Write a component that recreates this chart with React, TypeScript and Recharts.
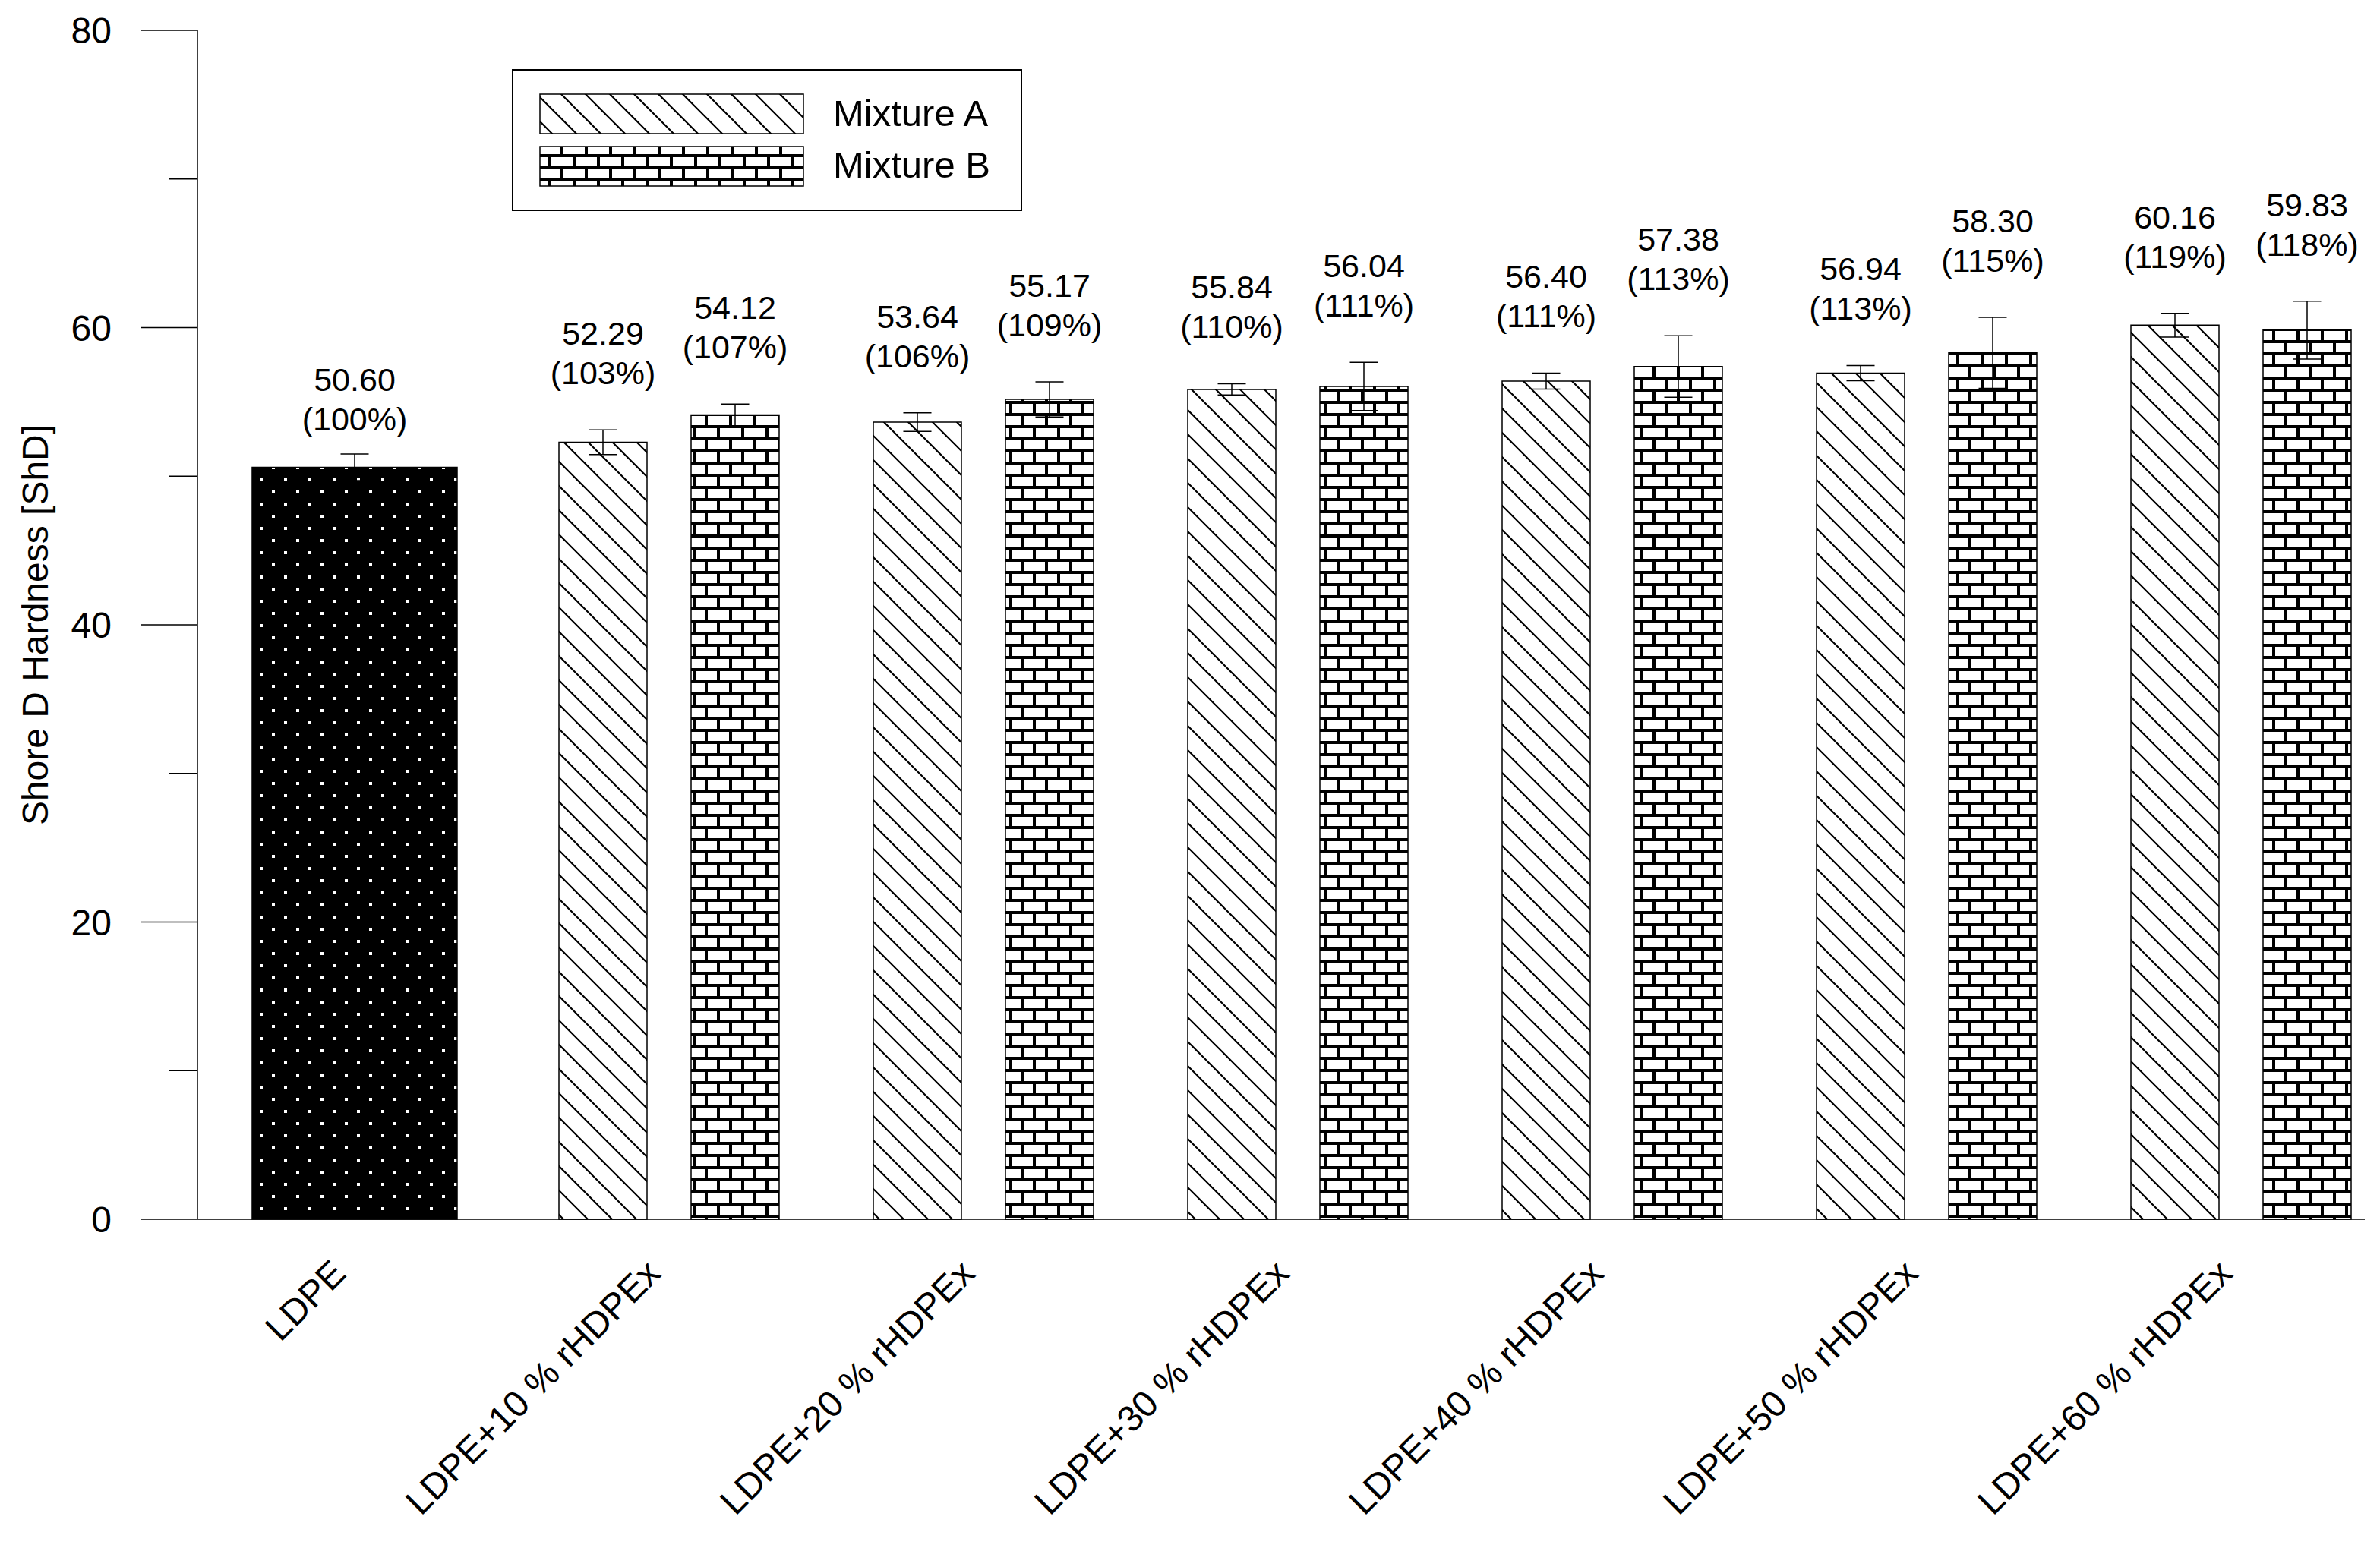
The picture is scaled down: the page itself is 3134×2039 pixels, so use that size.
import React from 'react';
import { BarChart, Bar, XAxis, YAxis, ErrorBar, LabelList, Legend } from 'recharts';

// ---- data ----
const categories = [
  'LDPE',
  'LDPE+10 % rHDPEx',
  'LDPE+20 % rHDPEx',
  'LDPE+30 % rHDPEx',
  'LDPE+40 % rHDPEx',
  'LDPE+50 % rHDPEx',
  'LDPE+60 % rHDPEx',
];
const ldpeValues = [50.6, null, null, null, null, null, null];
const ldpeErrors = [0.89, null, null, null, null, null, null];
const ldpePercents = [100, null, null, null, null, null, null];

const mixtureAValues = [null, 52.29, 53.64, 55.84, 56.4, 56.94, 60.16];
const mixtureAErrors = [null, 0.83, 0.63, 0.38, 0.54, 0.51, 0.8];
const mixtureAPercents = [null, 103, 106, 110, 111, 113, 119];

const mixtureBValues = [null, 54.12, 55.17, 56.04, 57.38, 58.3, 59.83];
const mixtureBErrors = [null, 0.73, 1.18, 1.62, 2.07, 2.39, 1.95];
const mixtureBPercents = [null, 107, 109, 111, 113, 115, 118];

const yTicks = [0, 10, 20, 30, 40, 50, 60, 70, 80];
const yMajorTicks = [0, 20, 40, 60, 80];
const yAxisTitle = 'Shore D Hardness [ShD]';
const legendNames = ['Mixture A', 'Mixture B'];

const data = categories.map((name, i) => ({
  name,
  ldpe: ldpeValues[i],
  ldpeErr: ldpeErrors[i],
  a: mixtureAValues[i],
  aErr: mixtureAErrors[i],
  b: mixtureBValues[i],
  bErr: mixtureBErrors[i],
}));

const FONT = '"Liberation Sans", Arial, Helvetica, sans-serif';

const XTick = (props: any) => {
  const { x, y, payload } = props;
  const ax = Number(x) - 9;
  const ay = Number(y) + 74;
  return (
    <text
      x={ax}
      y={ay}
      transform={`rotate(-45 ${ax} ${ay})`}
      textAnchor="end"
      fontSize={48}
      fontFamily={FONT}
      fill="#000"
    >
      {payload.value}
    </text>
  );
};

const YTick = (props: any) => {
  const { x, y, payload } = props;
  const v = payload.value;
  const major = yMajorTicks.includes(v);
  const len = major ? 74 : 38;
  const X = Number(x);
  const Y = Number(y);
  return (
    <g>
      <line x1={X - len} y1={Y} x2={X} y2={Y} stroke="#000" strokeWidth={1.5} />
      {major && (
        <text x={X - 113} y={Y + 17} textAnchor="end" fontSize={48} fontFamily={FONT} fill="#000">
          {v}
        </text>
      )}
    </g>
  );
};

const YTitle = (props: any) => {
  const vb = props.viewBox || { x: 0, y: 40, width: 260, height: 1566 };
  const cy = Number(vb.y) + Number(vb.height) / 2;
  const bx = 63;
  return (
    <text
      x={bx}
      y={cy}
      transform={`rotate(-90 ${bx} ${cy})`}
      textAnchor="middle"
      fontSize={48}
      fontFamily={FONT}
      fill="#000"
    >
      {yAxisTitle}
    </text>
  );
};

const makeLabel =
  (vals: (number | null)[], errs: (number | null)[], pcts: (number | null)[], gap: number) =>
  (props: any) => {
    const v = Number(props.value);
    if (props.value == null || isNaN(v)) return null;
    const index = vals.indexOf(v);
    if (index < 0) return null;
    const vb = props.viewBox && props.viewBox.width != null ? props.viewBox : props;
    const x = Number(vb.x);
    const y = Number(vb.y);
    const w = Number(vb.width);
    const h = Number(vb.height);
    const k = h / v;
    const errTop = y - (errs[index] || 0) * k;
    const base2 = errTop - gap;
    const base1 = base2 - 52;
    const cx = x + w / 2;
    return (
      <g>
        <text x={cx} y={base1} textAnchor="middle" fontSize={43} fontFamily={FONT} fill="#000">
          {v.toFixed(2)}
        </text>
        <text x={cx} y={base2} textAnchor="middle" fontSize={43} fontFamily={FONT} fill="#000">
          {`(${pcts[index]}%)`}
        </text>
      </g>
    );
  };

const legendFills = ['url(#patDiag)', 'url(#patBrick)'];

const LegendBox = () => (
  <svg width={672} height={187} style={{ display: 'block' }}>
    <rect x={1} y={1} width={670} height={185} fill="#fff" stroke="#000" strokeWidth={2} />
    {legendNames.map((n, i) => (
      <g key={n}>
        <rect
          x={37}
          y={33 + i * 69}
          width={347}
          height={52}
          fill={legendFills[i]}
          stroke="#000"
          strokeWidth={1.5}
        />
        <text x={423} y={75 + i * 68} fontSize={49} fontFamily={FONT} fill="#000">
          {n}
        </text>
      </g>
    ))}
  </svg>
);

export default function App() {
  return (
    <div
      style={{
        position: 'absolute',
        left: 0,
        top: 0,
        width: 3114,
        height: 2039,
        overflow: 'hidden',
        background: '#fff',
      }}
    >
      <BarChart
        width={3114}
        height={2039}
        data={data}
        margin={{ top: 40, right: -44, bottom: 0, left: 0 }}
        barGap={58}
      >
        <defs>
          <pattern id="patDots" patternUnits="userSpaceOnUse" width={32} height={32}>
            <rect x={0} y={0} width={32} height={32} fill="#000" />
            <rect x={6} y={6} width={4} height={4} fill="#fff" />
            <rect x={22} y={22} width={4} height={4} fill="#fff" />
          </pattern>
          <pattern id="patDiag" patternUnits="userSpaceOnUse" width={32} height={32}>
            <rect x={0} y={0} width={32} height={32} fill="#fff" />
            <path d="M-4,-4 L36,36 M-4,28 L4,36 M28,-4 L36,4" stroke="#000" strokeWidth={2.2} />
          </pattern>
          <pattern id="patBrick" patternUnits="userSpaceOnUse" width={32} height={32}>
            <rect x={0} y={0} width={32} height={32} fill="#fff" />
            <rect x={0} y={0} width={32} height={4} fill="#000" />
            <rect x={0} y={16} width={32} height={4} fill="#000" />
            <rect x={0} y={4} width={4} height={12} fill="#000" />
            <rect x={16} y={20} width={4} height={12} fill="#000" />
          </pattern>
        </defs>
        <XAxis
          xAxisId="pair"
          dataKey="name"
          height={433}
          interval={0}
          tickLine={false}
          tickSize={0}
          tickMargin={0}
          axisLine={{ stroke: '#000', strokeWidth: 1.5 }}
          tick={<XTick />}
        />
        <XAxis xAxisId="single" dataKey="name" hide />
        <YAxis
          domain={[0, 80]}
          ticks={yTicks}
          interval={0}
          width={260}
          tickLine={false}
          tickSize={0}
          tickMargin={0}
          axisLine={{ stroke: '#000', strokeWidth: 1.5 }}
          tick={<YTick />}
          label={<YTitle />}
        />
        <Bar
          xAxisId="single"
          dataKey="ldpe"
          name="LDPE"
          barSize={270}
          fill="url(#patDots)"
          stroke="#000"
          strokeWidth={1.5}
          isAnimationActive={false}
        >
          <ErrorBar dataKey="ldpeErr" width={18.5} stroke="#000" strokeWidth={1.5} />
          <LabelList content={makeLabel(ldpeValues, ldpeErrors, ldpePercents, 31)} />
        </Bar>
        <Bar
          xAxisId="pair"
          dataKey="a"
          name={legendNames[0]}
          barSize={116}
          fill="url(#patDiag)"
          stroke="#000"
          strokeWidth={1.5}
          isAnimationActive={false}
        >
          <ErrorBar dataKey="aErr" width={18.5} stroke="#000" strokeWidth={1.5} />
          <LabelList content={makeLabel(mixtureAValues, mixtureAErrors, mixtureAPercents, 60)} />
        </Bar>
        <Bar
          xAxisId="pair"
          dataKey="b"
          name={legendNames[1]}
          barSize={116}
          fill="url(#patBrick)"
          stroke="#000"
          strokeWidth={1.5}
          isAnimationActive={false}
        >
          <ErrorBar dataKey="bErr" width={18.5} stroke="#000" strokeWidth={1.5} />
          <LabelList content={makeLabel(mixtureBValues, mixtureBErrors, mixtureBPercents, 60)} />
        </Bar>
        <Legend
          layout="horizontal"
          verticalAlign="middle"
          align="center"
          content={() => <LegendBox />}
          wrapperStyle={{ left: 674, top: 91, width: 672, height: 187, bottom: 'auto', right: 'auto' }}
        />
      </BarChart>
    </div>
  );
}
